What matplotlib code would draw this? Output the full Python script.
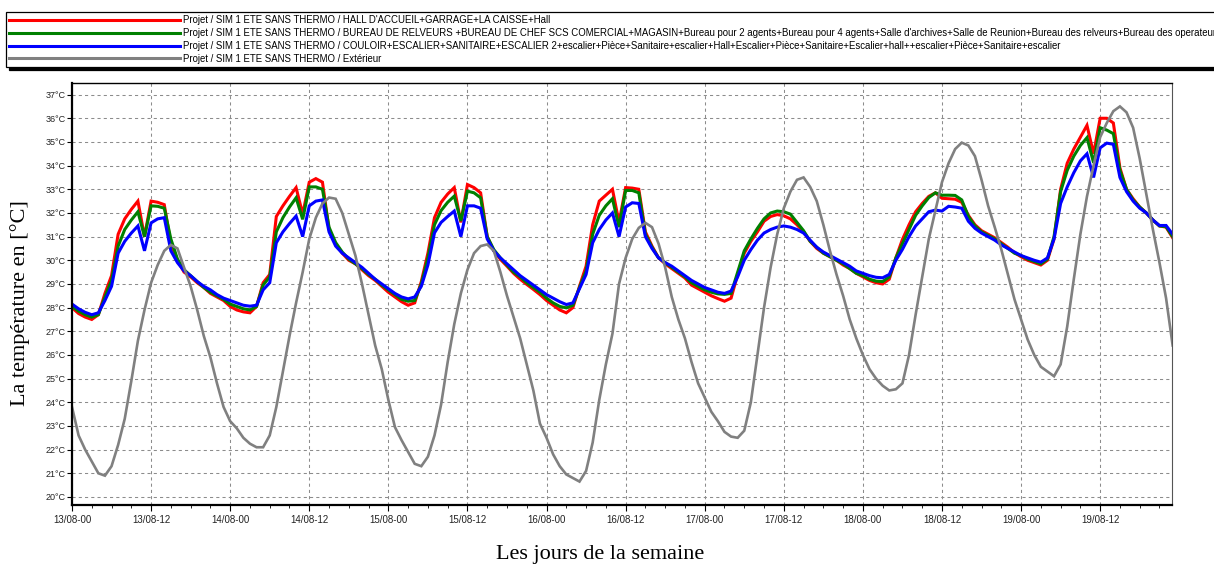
import numpy as np
import matplotlib
matplotlib.use("Agg")
import matplotlib.pyplot as plt
from matplotlib.ticker import MultipleLocator, FixedLocator

# heures depuis le 13/08 à 00h (pas horaire, 7 jours)
hours = np.arange(168)

# HALL D'ACCUEIL+GARRAGE+LA CAISSE+Hall
t_hall = [
    28.0, 27.75, 27.6, 27.5, 27.7, 28.6, 29.35, 31.1, 31.75, 32.15, 32.5, 31.0,
    32.5, 32.45, 32.35, 30.7, 30.0, 29.5, 29.3, 29.05, 28.85, 28.6, 28.45, 28.3,
    28.05, 27.9, 27.82, 27.78, 28.05, 29.05, 29.4, 31.85, 32.3, 32.7, 33.07, 31.95,
    33.3, 33.45, 33.3, 31.3, 30.7, 30.3, 30.0, 29.85, 29.6, 29.35, 29.15, 28.9,
    28.65, 28.45, 28.25, 28.1, 28.2, 29.1, 30.3, 31.8, 32.45, 32.8, 33.07, 31.6,
    33.2, 33.07, 32.85, 31.0, 30.4, 30.04, 29.75, 29.45, 29.2, 28.98, 28.77, 28.55,
    28.3, 28.1, 27.9, 27.78, 28.0, 28.9, 29.75, 31.5, 32.5, 32.75, 33.0, 31.6,
    33.07, 33.05, 33.0, 31.2, 30.6, 30.1, 29.85, 29.65, 29.45, 29.25, 28.95, 28.8,
    28.65, 28.5, 28.38, 28.27, 28.4, 29.4, 30.3, 30.8, 31.2, 31.65, 31.85, 31.93,
    31.88, 31.75, 31.5, 31.2, 30.8, 30.5, 30.3, 30.15, 30.0, 29.8, 29.65, 29.45,
    29.3, 29.15, 29.05, 29.0, 29.2, 30.1, 30.88, 31.5, 32.05, 32.4, 32.7, 32.85,
    32.62, 32.6, 32.58, 32.45, 31.9, 31.5, 31.25, 31.1, 30.95, 30.75, 30.55, 30.32,
    30.15, 30.0, 29.9, 29.8, 30.0, 30.9, 33.0, 34.1, 34.7, 35.2, 35.7, 34.5,
    36.0, 36.0, 35.8, 33.9, 33.0, 32.6, 32.25, 32.0, 31.7, 31.45, 31.4, 30.95,
]

# BUREAU DE RELVEURS +BUREAU DE CHEF ... (bureaux)
t_bureaux = [
    28.05, 27.85, 27.7, 27.6, 27.7, 28.45, 29.15, 30.6, 31.3, 31.7, 32.05, 31.0,
    32.3, 32.28, 32.2, 30.9, 30.05, 29.6, 29.35, 29.1, 28.85, 28.65, 28.5, 28.35,
    28.15, 28.05, 27.95, 27.9, 28.05, 28.95, 29.3, 31.2, 31.8, 32.25, 32.64, 31.73,
    33.1, 33.1, 33.0, 31.4, 30.75, 30.35, 30.05, 29.85, 29.65, 29.4, 29.2, 28.95,
    28.75, 28.55, 28.35, 28.27, 28.3, 29.0, 30.1, 31.5, 32.1, 32.45, 32.71, 31.66,
    32.92, 32.85, 32.64, 31.0, 30.45, 30.1, 29.8, 29.5, 29.3, 29.05, 28.85, 28.65,
    28.4, 28.2, 28.05, 27.99, 28.1, 28.85, 29.55, 31.1, 31.9, 32.3, 32.6, 31.4,
    32.95, 32.95, 32.85, 31.1, 30.55, 30.1, 29.9, 29.7, 29.5, 29.3, 29.05, 28.9,
    28.75, 28.65, 28.58, 28.56, 28.6, 29.5, 30.4, 30.9, 31.35, 31.75, 32.0, 32.08,
    32.05, 31.95, 31.6, 31.25, 30.8, 30.55, 30.3, 30.15, 30.0, 29.85, 29.65, 29.45,
    29.35, 29.2, 29.12, 29.1, 29.3, 30.1, 30.7, 31.3, 31.9, 32.3, 32.65, 32.85,
    32.75, 32.75, 32.74, 32.55, 31.85, 31.45, 31.2, 31.05, 30.9, 30.7, 30.5, 30.3,
    30.2, 30.05, 29.95, 29.85, 30.05, 31.0, 32.9, 33.8, 34.4, 34.85, 35.18, 34.12,
    35.6, 35.5, 35.35, 33.8, 33.0, 32.55, 32.25, 32.0, 31.7, 31.45, 31.42, 31.0,
]

# COULOIR+ESCALIER+SANITAIRE+...
t_couloir = [
    28.15, 27.95, 27.8, 27.7, 27.78, 28.3, 28.9, 30.3, 30.8, 31.15, 31.45, 30.4,
    31.58, 31.75, 31.8, 30.4, 29.9, 29.55, 29.35, 29.1, 28.9, 28.75, 28.55, 28.4,
    28.3, 28.2, 28.1, 28.06, 28.1, 28.75, 29.05, 30.74, 31.2, 31.55, 31.87, 31.0,
    32.3, 32.5, 32.55, 31.2, 30.6, 30.3, 30.1, 29.9, 29.7, 29.45, 29.2, 29.0,
    28.8, 28.6, 28.45, 28.37, 28.45, 28.9, 29.8, 31.16, 31.6, 31.85, 32.08, 31.0,
    32.3, 32.3, 32.2, 30.9, 30.4, 30.1, 29.85, 29.6, 29.35, 29.15, 28.95, 28.75,
    28.55, 28.4, 28.25, 28.13, 28.2, 28.8, 29.4, 30.74, 31.3, 31.7, 32.0, 31.0,
    32.25, 32.43, 32.4, 31.0, 30.5, 30.1, 29.9, 29.75, 29.55, 29.35, 29.15, 29.0,
    28.85, 28.75, 28.65, 28.6, 28.7, 29.3, 30.0, 30.45, 30.85, 31.15, 31.3, 31.4,
    31.45, 31.4, 31.3, 31.15, 30.85, 30.55, 30.35, 30.2, 30.05, 29.9, 29.75, 29.55,
    29.45, 29.35, 29.28, 29.26, 29.4, 30.0, 30.46, 31.0, 31.45, 31.75, 32.05, 32.12,
    32.08, 32.28, 32.25, 32.2, 31.65, 31.35, 31.15, 31.0, 30.85, 30.65, 30.5, 30.35,
    30.2, 30.1, 30.0, 29.92, 30.1, 30.9, 32.4, 33.1, 33.7, 34.2, 34.5, 33.5,
    34.75, 34.95, 34.9, 33.5, 32.9, 32.5, 32.2, 32.0, 31.7, 31.47, 31.47, 31.1,
]

# Extérieur
t_ext = [
    23.8, 22.6, 22.0, 21.5, 21.0, 20.9, 21.3, 22.2, 23.3, 24.9, 26.6, 27.9,
    29.05, 29.8, 30.4, 30.65, 30.5, 29.7, 28.9, 27.9, 26.8, 25.9, 24.8, 23.8,
    23.2, 22.9, 22.5, 22.25, 22.1, 22.1, 22.6, 23.8, 25.3, 26.8, 28.2, 29.5,
    30.9, 31.8, 32.4, 32.65, 32.6, 32.0, 31.1, 30.2, 29.0, 27.7, 26.4, 25.4,
    24.1, 22.95, 22.4, 21.9, 21.4, 21.3, 21.7, 22.6, 23.9, 25.7, 27.3, 28.6,
    29.6, 30.3, 30.6, 30.67, 30.4, 29.5, 28.5, 27.6, 26.7, 25.6, 24.5, 23.1,
    22.5, 21.8, 21.3, 20.95, 20.8, 20.65, 21.1, 22.3, 24.1, 25.6, 26.9, 29.0,
    30.1, 30.9, 31.37, 31.58, 31.4, 30.7, 29.7, 28.45, 27.5, 26.7, 25.7, 24.8,
    24.2, 23.6, 23.2, 22.75, 22.55, 22.5, 22.8, 24.0, 26.0, 28.0, 29.7, 31.1,
    32.2, 32.9, 33.4, 33.5, 33.1, 32.5, 31.5, 30.4, 29.4, 28.5, 27.5, 26.7,
    26.0, 25.4, 25.0, 24.7, 24.5, 24.55, 24.8, 26.0, 27.7, 29.3, 30.9, 32.1,
    33.3, 34.1, 34.7, 34.97, 34.85, 34.4, 33.4, 32.3, 31.4, 30.46, 29.4, 28.35,
    27.5, 26.65, 26.0, 25.5, 25.3, 25.1, 25.6, 27.2, 29.2, 31.1, 32.7, 34.0,
    35.2, 35.8, 36.3, 36.5, 36.25, 35.6, 34.3, 32.8, 31.3, 29.9, 28.4, 26.4,
]

series_labels = [
    "Projet / SIM 1 ETE SANS THERMO / HALL D'ACCUEIL+GARRAGE+LA CAISSE+Hall",
    "Projet / SIM 1 ETE SANS THERMO / BUREAU DE RELVEURS +BUREAU DE CHEF SCS COMERCIAL+MAGASIN+Bureau pour 2 agents+Bureau pour 4 agents+Salle d'archives+Salle de Reunion+Bureau des relveurs+Bureau des operateurs",
    "Projet / SIM 1 ETE SANS THERMO / COULOIR+ESCALIER+SANITAIRE+ESCALIER 2+escalier+Pièce+Sanitaire+escalier+Hall+Escalier+Pièce+Sanitaire+Escalier+hall++escalier+Pièce+Sanitaire+escalier",
    "Projet / SIM 1 ETE SANS THERMO / Extérieur",
]
series_colors = ["#ff0000", "#008000", "#0000ff", "#808080"]

tick_hours = list(range(0, 168, 12))
tick_labels = ["13/08-00", "13/08-12", "14/08-00", "14/08-12", "15/08-00",
               "15/08-12", "16/08-00", "16/08-12", "17/08-00", "17/08-12",
               "18/08-00", "18/08-12", "19/08-00", "19/08-12"]
y_ticks = list(range(20, 38))

W, H = 1214, 568
fig = plt.figure(figsize=(W / 100, H / 100), dpi=100)
ax = fig.add_axes([72 / W, 1 - 505 / H, 1100 / W, 422 / H])

for vals, col, lab in zip([t_hall, t_bureaux, t_couloir, t_ext],
                          series_colors, series_labels):
    lw = 1.9 if col == "#808080" else 2.2
    ax.plot(hours, vals, color=col, lw=lw, label=lab, solid_joinstyle="miter")

ax.set_xlim(0, 166.9)
ax.set_ylim(19.66, 37.49)

ax.xaxis.set_major_locator(FixedLocator(tick_hours))
ax.set_xticks(tick_hours, tick_labels)
ax.xaxis.set_minor_locator(MultipleLocator(3))
ax.set_yticks(y_ticks, [f"{v}°C" for v in y_ticks])

ax.grid(True, which="major", color="#8c8c8c", lw=0.75, linestyle=(0, (3, 3)))
ax.set_axisbelow(True)

ax.tick_params(axis="x", which="major", length=4, width=0.8, pad=3,
               labelsize=7.0, labelcolor="#222222")
ax.tick_params(axis="x", which="minor", length=2.5, width=0.6)
ax.tick_params(axis="y", length=3.5, width=0.8, pad=0.8,
               labelsize=6.5, labelcolor="#222222")
for lab in ax.get_xticklabels() + ax.get_yticklabels():
    lab.set_family("Liberation Sans")

ax.spines["left"].set_linewidth(1.6)
ax.spines["bottom"].set_linewidth(1.6)
ax.spines["top"].set_linewidth(1.0)
ax.spines["right"].set_linewidth(0.8)
ax.spines["right"].set_color("#555555")

ax.set_ylabel("La température en [°C]", family="Liberation Serif", fontsize=16)
ax.yaxis.set_label_coords(-0.038, 0.479)
ax.set_xlabel("Les jours de la semaine", family="Liberation Serif", fontsize=16)
ax.xaxis.set_label_coords(0.48, -0.095)

# légende comme dans l'export d'origine (coupée au bord droit)
leg = fig.legend(loc="upper left", bbox_to_anchor=(6 / W, 1 - 12 / H),
                 borderaxespad=0, handlelength=17.8,
                 handletextpad=0.3, labelspacing=0.3, borderpad=0.33,
                 fancybox=False, edgecolor="black", framealpha=1,
                 shadow={"color": "black", "alpha": 1},
                 prop={"family": "Liberation Sans", "size": 6.9})
leg.get_frame().set_linewidth(0.9)
for line in leg.get_lines():
    line.set_linewidth(2.2)

fig.savefig("out.png", dpi=100)
